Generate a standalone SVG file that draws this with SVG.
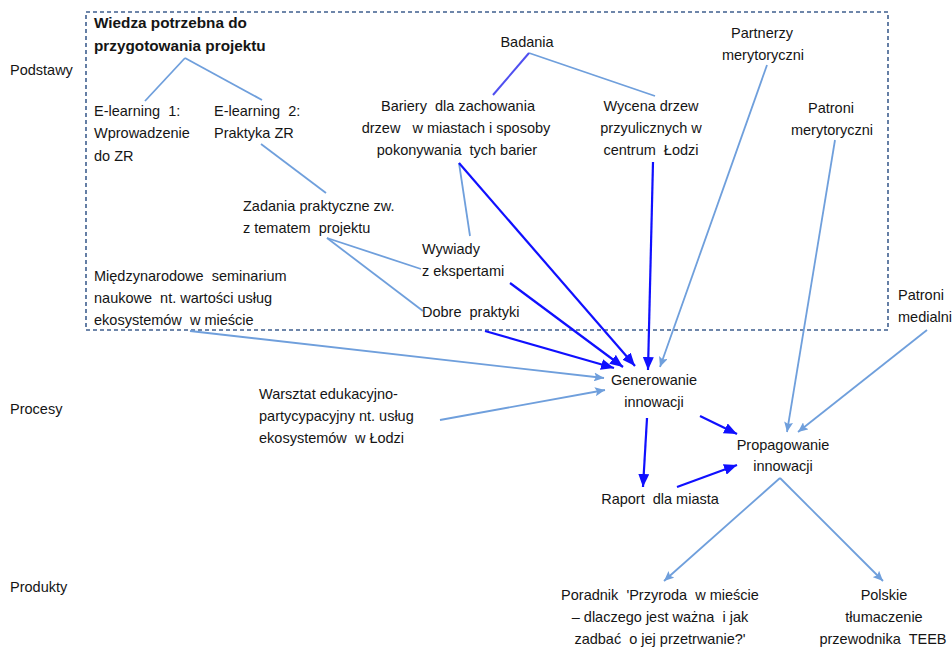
<svg xmlns="http://www.w3.org/2000/svg" width="952" height="647" viewBox="0 0 952 647" xml:space="preserve">
<defs>
<style>
text{font-family:"Liberation Sans",Arial,sans-serif;font-size:14.5px;fill:#151515;white-space:pre}
.b{font-weight:bold;font-size:15.3px}
.m{text-anchor:middle}
.lt{stroke:#6f9fdc;stroke-width:1.8;fill:none}
.md{stroke:#4f4ff0;stroke-width:2;fill:none}
.dk{stroke:#1010ff;stroke-width:2.2;fill:none}
.la{marker-end:url(#ah-l)}
.da{marker-end:url(#ah-d)}
</style>
<marker id="ah-l" markerUnits="userSpaceOnUse" markerWidth="11" markerHeight="9" refX="10" refY="4.5" orient="auto">
<path d="M0,0 L10,4.5 L0,9 L2,4.5 z" fill="#6f9fdc"/>
</marker>
<marker id="ah-d" markerUnits="userSpaceOnUse" markerWidth="14" markerHeight="11" refX="13" refY="5.5" orient="auto">
<path d="M0,0 L13,5.5 L0,11 z" fill="#1010ff"/>
</marker>
</defs>
<rect width="952" height="647" fill="#fff"/>
<rect id="frame" x="86" y="12" width="802" height="318" fill="none" stroke="#3f5f8f" stroke-width="1.6" stroke-dasharray="4,3"/>

<g id="connectors">
<line class="lt" x1="185" y1="58" x2="145" y2="101"/>
<line class="lt" x1="185" y1="58" x2="262" y2="100"/>
<line class="lt" x1="261" y1="144" x2="326" y2="193"/>
<line class="lt" x1="327" y1="238" x2="421" y2="269"/>
<line class="lt" x1="327" y1="238" x2="423" y2="311"/>
<line class="lt" x1="459" y1="163" x2="470" y2="236"/>
<line class="lt" x1="529" y1="53" x2="655" y2="96"/>
<line class="md" x1="529" y1="53" x2="493" y2="95"/>
<line class="lt la" x1="190" y1="331" x2="604" y2="378"/>
<line class="lt la" x1="440" y1="420" x2="605" y2="390"/>
<line class="lt la" x1="767" y1="65" x2="660" y2="367"/>
<line class="lt la" x1="835" y1="140" x2="787" y2="432"/>
<line class="lt la" x1="927" y1="330" x2="798" y2="432"/>
<line class="lt la" x1="780" y1="478" x2="664" y2="581"/>
<line class="lt la" x1="780" y1="478" x2="883" y2="581"/>
<line class="dk da" x1="459" y1="163" x2="635" y2="366"/>
<line class="dk da" x1="510" y1="283" x2="623" y2="367"/>
<line class="dk da" x1="485" y1="331" x2="614" y2="368"/>
<line class="dk da" x1="653" y1="162" x2="648" y2="370"/>
<line class="dk da" x1="700" y1="416" x2="737" y2="434"/>
<line class="dk da" x1="647" y1="418" x2="643" y2="487"/>
<line class="dk da" x1="677" y1="487" x2="737" y2="465"/>
</g>

<g id="lbl-podstawy"><text x="10" y="75">Podstawy</text></g>
<g id="lbl-procesy"><text x="10" y="414">Procesy</text></g>
<g id="lbl-produkty"><text x="10" y="592">Produkty</text></g>

<g id="wiedza"><text class="b" x="94" y="28">Wiedza potrzebna do</text><text class="b" x="94" y="51">przygotowania projektu</text></g>
<g id="elearning1"><text x="94" y="116">E-learning  1:</text><text x="94" y="138">Wprowadzenie</text><text x="94" y="161">do ZR</text></g>
<g id="elearning2"><text x="214" y="116">E-learning  2:</text><text x="214" y="138">Praktyka ZR</text></g>
<g id="zadania"><text x="243" y="211">Zadania praktyczne zw.</text><text x="243" y="233">z tematem  projektu</text></g>
<g id="seminarium"><text x="94" y="281">Międzynarodowe  seminarium</text><text x="94" y="303">naukowe  nt. wartości usług</text><text x="94" y="325">ekosystemów  w mieście</text></g>
<g id="badania"><text class="m" x="527" y="47">Badania</text></g>
<g id="bariery"><text class="m" x="458" y="111">Bariery  dla zachowania</text><text class="m" x="456" y="133">drzew   w miastach i sposoby</text><text class="m" x="457" y="155">pokonywania  tych barier</text></g>
<g id="wycena"><text class="m" x="651" y="111">Wycena drzew</text><text class="m" x="651" y="133">przyulicznych w</text><text class="m" x="651" y="155">centrum  Łodzi</text></g>
<g id="partnerzy"><text class="m" x="762" y="38">Partnerzy</text><text class="m" x="763" y="60">merytoryczni</text></g>
<g id="patroni-mer"><text class="m" x="831" y="113">Patroni</text><text class="m" x="832" y="135">merytoryczni</text></g>
<g id="patroni-med"><text x="898" y="300">Patroni</text><text x="898" y="322">medialni</text></g>
<g id="wywiady"><text x="422" y="254">Wywiady</text><text x="422" y="276">z ekspertami</text></g>
<g id="dobre"><text x="422" y="317">Dobre  praktyki</text></g>
<g id="warsztat"><text x="259" y="399">Warsztat edukacyjno-</text><text x="259" y="421">partycypacyjny nt. usług</text><text x="259" y="443">ekosystemów  w Łodzi</text></g>
<g id="generowanie"><text class="m" x="654" y="385">Generowanie</text><text class="m" x="654" y="407">innowacji</text></g>
<g id="propagowanie"><text class="m" x="783" y="450">Propagowanie</text><text class="m" x="783" y="471">innowacji</text></g>
<g id="raport"><text class="m" x="660" y="504">Raport  dla miasta</text></g>
<g id="poradnik"><text class="m" x="660" y="600">Poradnik  'Przyroda  w mieście</text><text class="m" x="660" y="622">– dlaczego jest ważna  i jak</text><text class="m" x="660" y="644">zadbać  o jej przetrwanie?'</text></g>
<g id="teeb"><text class="m" x="884" y="600">Polskie</text><text class="m" x="884" y="622">tłumaczenie</text><text class="m" x="883" y="644">przewodnika  TEEB</text></g>
</svg>
